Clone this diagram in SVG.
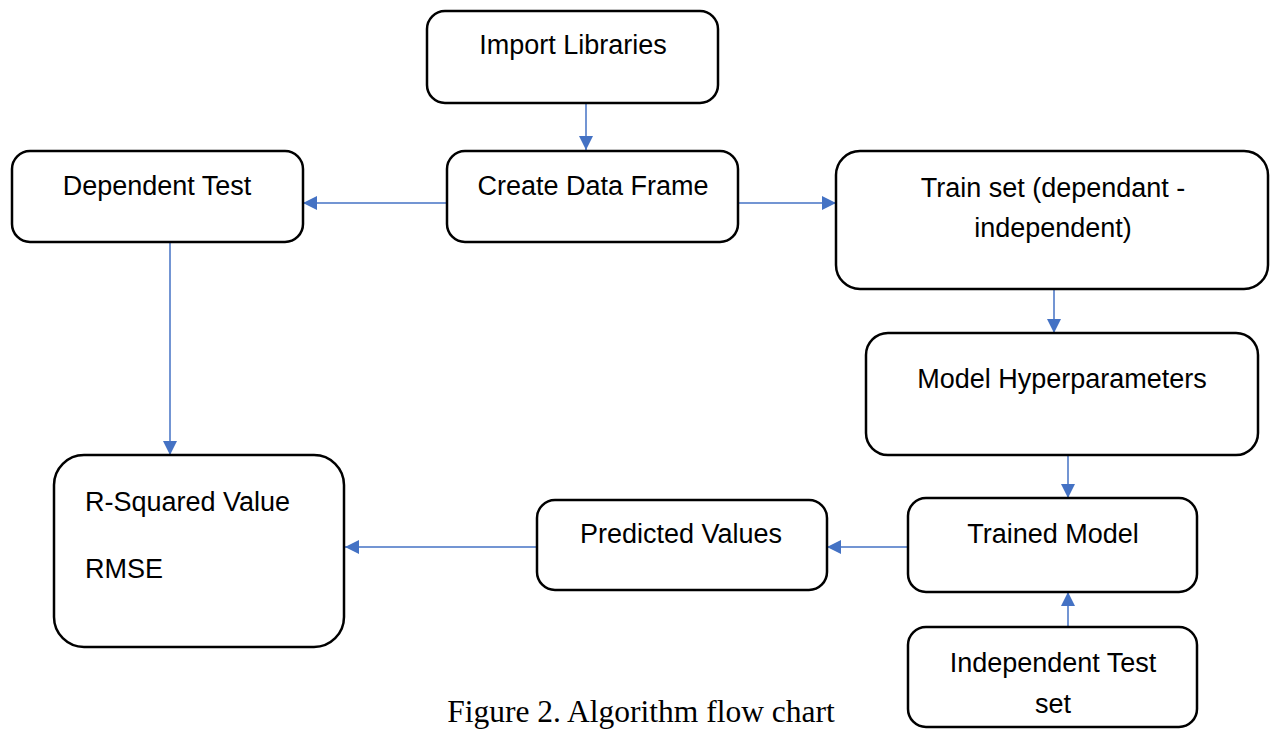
<svg xmlns="http://www.w3.org/2000/svg" width="1270" height="729" viewBox="0 0 1270 729">
<defs>
<style>
.box{fill:#fff;stroke:#000;stroke-width:2.5}
.lbl{font-family:"Liberation Sans",Arial,sans-serif;font-size:27px;fill:#000}
.c{text-anchor:middle}
.con{stroke:#4472C4;stroke-width:1.5;fill:none}
.cap{font-family:"Liberation Serif","Times New Roman",serif;font-size:31.5px;fill:#000;text-anchor:middle}
</style>
<marker id="ah" viewBox="0 0 10 10" refX="10" refY="5" markerWidth="14" markerHeight="15" markerUnits="userSpaceOnUse" orient="auto">
<path d="M0,0 L10,5 L0,10 z" fill="#4472C4"/>
</marker>
</defs>
<rect width="1270" height="729" fill="#fff"/>
<g id="connectors">
<line class="con" x1="586" y1="103" x2="586" y2="150" marker-end="url(#ah)"/>
<line class="con" x1="447" y1="203" x2="303" y2="203" marker-end="url(#ah)"/>
<line class="con" x1="738" y1="203" x2="836" y2="203" marker-end="url(#ah)"/>
<line class="con" x1="170" y1="242" x2="170" y2="455" marker-end="url(#ah)"/>
<line class="con" x1="1054" y1="289" x2="1054" y2="333" marker-end="url(#ah)"/>
<line class="con" x1="1068" y1="455" x2="1068" y2="498" marker-end="url(#ah)"/>
<line class="con" x1="908" y1="547" x2="827" y2="547" marker-end="url(#ah)"/>
<line class="con" x1="537" y1="547" x2="345" y2="547" marker-end="url(#ah)"/>
<line class="con" x1="1068" y1="627" x2="1068" y2="592" marker-end="url(#ah)"/>
</g>
<g id="import-libraries">
<rect class="box" x="427" y="11" width="291" height="92" rx="18"/>
<text class="lbl c" x="573" y="54">Import Libraries</text>
</g>
<g id="create-data-frame">
<rect class="box" x="447" y="151" width="291" height="91" rx="18"/>
<text class="lbl c" x="593" y="195">Create Data Frame</text>
</g>
<g id="dependent-test">
<rect class="box" x="12" y="151" width="291" height="91" rx="18"/>
<text class="lbl c" x="157" y="195">Dependent Test</text>
</g>
<g id="train-set">
<rect class="box" x="836" y="151" width="432" height="138" rx="24"/>
<text class="lbl c" x="1053" y="197">Train set (dependant -</text>
<text class="lbl c" x="1053" y="237">independent)</text>
</g>
<g id="model-hyperparameters">
<rect class="box" x="866" y="333" width="392" height="122" rx="22"/>
<text class="lbl c" x="1062" y="388">Model Hyperparameters</text>
</g>
<g id="trained-model">
<rect class="box" x="908" y="498" width="289" height="94" rx="18"/>
<text class="lbl c" x="1053" y="543">Trained Model</text>
</g>
<g id="predicted-values">
<rect class="box" x="537" y="500" width="290" height="90" rx="18"/>
<text class="lbl c" x="681" y="543">Predicted Values</text>
</g>
<g id="r-squared">
<rect class="box" x="54" y="455" width="290" height="192" rx="30"/>
<text class="lbl" x="85" y="511">R-Squared Value</text>
<text class="lbl" x="85" y="578">RMSE</text>
</g>
<g id="independent-test-set">
<rect class="box" x="908" y="627" width="289" height="100" rx="18"/>
<text class="lbl c" x="1053" y="672">Independent Test</text>
<text class="lbl c" x="1053" y="713">set</text>
</g>
<text class="cap" x="641" y="722">Figure 2. Algorithm flow chart</text>
</svg>
